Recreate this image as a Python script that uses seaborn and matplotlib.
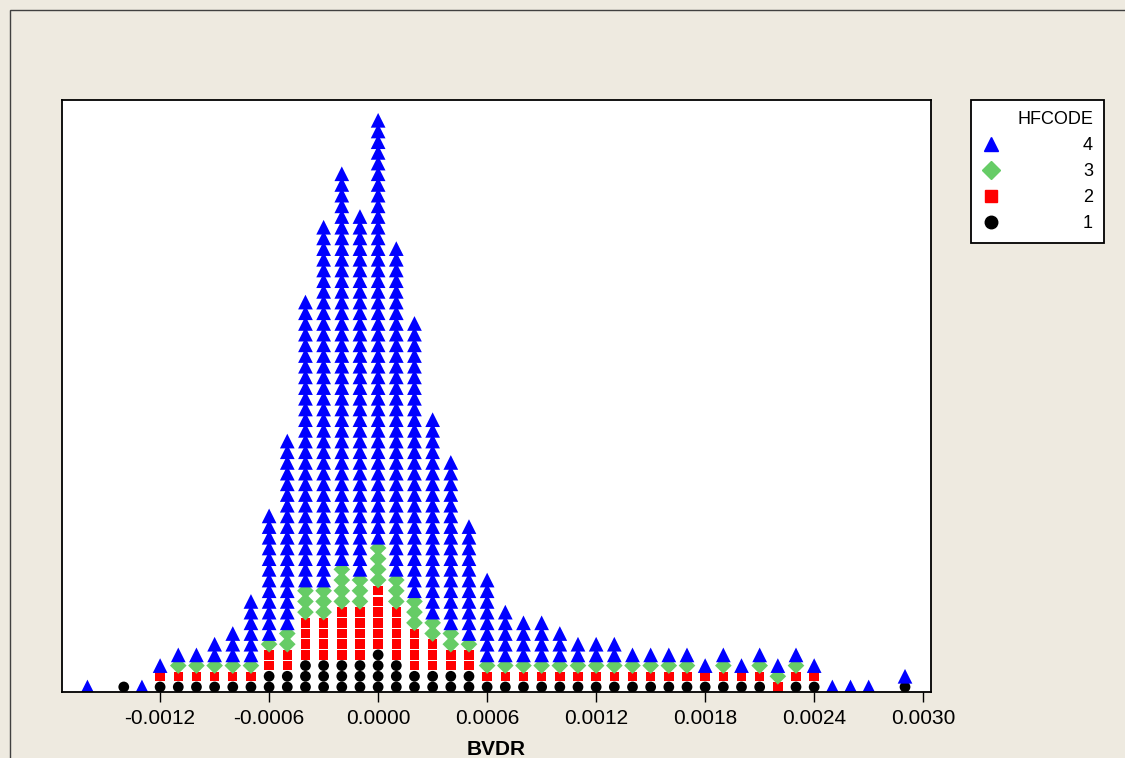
import numpy as np
import pandas as pd
import seaborn as sns
import matplotlib.pyplot as plt
from matplotlib.lines import Line2D
from matplotlib.patches import Rectangle

# BVDR bin centres (in units of 0.0001) and number of dots per HFCODE in each bin
bins = [-16, -14, -13, -12, -11, -10, -9, -8, -7, -6, -5, -4, -3, -2, -1, 0,
        1, 2, 3, 4, 5, 6, 7, 8, 9, 10, 11, 12, 13, 14, 15, 16, 17, 18, 19, 20,
        21, 22, 23, 24, 25, 26, 27, 29]
code1 = [0, 1, 0, 1, 1, 1, 1, 1, 1, 2, 2, 3, 3, 3, 3, 4,
         3, 2, 2, 2, 2, 1, 1, 1, 1, 1, 1, 1, 1, 1, 1, 1, 1, 1, 1, 1,
         1, 0, 1, 1, 0, 0, 0, 1]
code2 = [0, 0, 0, 1, 1, 1, 1, 1, 1, 2, 2, 4, 4, 5, 5, 6,
         5, 4, 3, 2, 2, 1, 1, 1, 1, 1, 1, 1, 1, 1, 1, 1, 1, 1, 1, 1,
         1, 1, 1, 1, 0, 0, 0, 0]
code3 = [0, 0, 0, 0, 1, 1, 1, 1, 1, 1, 2, 3, 3, 4, 3, 4,
         3, 3, 2, 2, 1, 1, 1, 1, 1, 1, 1, 1, 1, 1, 1, 1, 1, 0, 1, 0,
         1, 1, 1, 0, 0, 0, 0, 0]
code4 = [1, 0, 1, 1, 1, 1, 2, 3, 6, 12, 18, 27, 34, 37, 34, 40,
         31, 26, 19, 16, 11, 8, 5, 4, 4, 3, 2, 2, 2, 1, 1, 1, 1, 1, 1, 1,
         1, 1, 1, 1, 1, 1, 1, 1]

codes = ['1', '2', '3', '4']
colors = {'1': 'black', '2': '#FF0000', '3': '#66CC66', '4': '#0000FF'}
markers = {'1': 'o', '2': 's', '3': 'D', '4': '^'}
sizes = {'1': 60, '2': 46, '3': 72, '4': 112}
legend_ms = {'1': 9, '2': 9, '3': 9, '4': 10.5}
xticks = [-0.0012, -0.0006, 0.0, 0.0006, 0.0012, 0.0018, 0.0024, 0.0030]

# stack the dots: code 1 at the bottom, then 2, 3, 4
rows = []
for b, n1, n2, n3, n4 in zip(bins, code1, code2, code3, code4):
    level = 0
    for code, n in zip(codes, [n1, n2, n3, n4]):
        for _ in range(n):
            rows.append((b * 1e-4, level, code))
            level += 1
df = pd.DataFrame(rows, columns=['BVDR', 'level', 'HFCODE'])

sns.set_theme(style='white')
plt.rcParams['font.family'] = ['Liberation Sans', 'DejaVu Sans']
plt.rcParams['text.color'] = 'black'
plt.rcParams['xtick.color'] = 'black'
bg = '#EEEAE0'

fig = plt.figure(figsize=(11.25, 7.58), dpi=100, facecolor=bg)
ax = fig.add_axes([62 / 1125, 1 - 692 / 758, (931 - 62) / 1125, (692 - 100) / 758])
ax.set_facecolor('white')

sns.scatterplot(data=df, x='BVDR', y='level', hue='HFCODE', style='HFCODE',
                size='HFCODE', palette=colors, markers=markers, sizes=sizes,
                linewidth=0, legend=False, ax=ax)

ax.set_xlim(-0.00174, 0.003043)
ax.set_ylim(-0.47, 54.9)
ax.set_yticks([])
ax.set_ylabel('')
ax.set_xticks(xticks)
ax.set_xticklabels([f'{round(v, 4):.4f}' for v in xticks], fontsize=15,
                   color='black')
ax.tick_params(axis='x', bottom=True, direction='out', length=7, width=1,
               color='black', pad=5)
ax.set_xlabel('BVDR', fontsize=15, fontweight='bold', labelpad=9,
              color='black')
for s in ax.spines.values():
    s.set_color('black')
    s.set_linewidth(1.3)

handles = [Line2D([], [], linestyle='none', marker=markers[c], color=colors[c],
                  markersize=legend_ms[c]) for c in ['4', '3', '2', '1']]
leg = fig.legend(handles, ['4', '3', '2', '1'], title='HFCODE',
                 loc='upper left', bbox_to_anchor=(971 / 1125, 1 - 100 / 758),
                 borderaxespad=0, fontsize=13, title_fontsize=13,
                 alignment='right', handlelength=1.0, handletextpad=4.6,
                 labelspacing=0.5, borderpad=0.6, frameon=True,
                 fancybox=False, framealpha=1)
leg.get_frame().set_edgecolor('black')
leg.get_frame().set_linewidth(1.3)

# outer graph frame
fig.patches.append(Rectangle((10 / 1125, -0.1), 1.2, 1.1 - 10 / 758,
                             transform=fig.transFigure, fill=False,
                             edgecolor='#404040', linewidth=1))

fig.savefig('out.png', dpi=100, facecolor=bg)
